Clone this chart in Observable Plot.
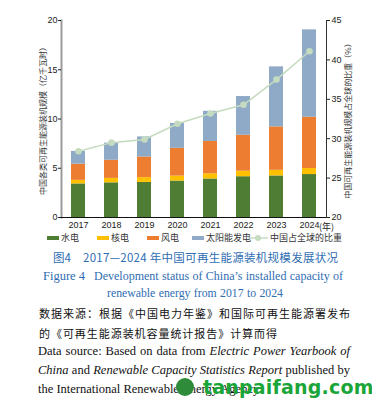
<!DOCTYPE html>
<html><head><meta charset="utf-8">
<script src="https://cdn.jsdelivr.net/npm/d3@7"></script>
<script src="https://cdn.jsdelivr.net/npm/@observablehq/plot@0.6"></script>
<style>
body{margin:0;background:#fff;}
#wrap{position:relative;width:372px;height:406px;overflow:hidden;background:#fff;}
#chart{position:absolute;left:0;top:0;}
.abs{position:absolute;white-space:nowrap;}
#legend{position:absolute;left:0;top:231px;width:372px;height:14px;font-family:"Noto Sans CJK SC",sans-serif;font-size:9px;color:#333;}
.lg{position:absolute;top:0;height:14px;line-height:14px;}
.sw{display:inline-block;width:12px;height:4px;vertical-align:middle;margin-right:2px;position:relative;top:-1px;}
.cn{font-family:"Noto Sans CJK SC",sans-serif;}
.en{font-family:"Liberation Serif","Times New Roman",serif;}
.blue{color:#2f6db3;}
</style></head><body>
<div id="wrap">
<div id="chart"></div>
<div id="legend"></div>
<div class="abs cn blue" style="left:53px;top:249px;font-size:11.5px;line-height:16px;">图4</div>
<div class="abs cn blue fit" data-w="255" data-mode="letter" style="left:83px;top:249px;font-size:11.5px;line-height:16px;">2017—2024 年中国可再生能源装机规模发展状况</div>
<div class="abs en blue" style="left:43px;top:268px;font-size:12.5px;line-height:16px;">Figure 4</div>
<div class="abs en blue fit" data-w="249" data-mode="word" style="left:94px;top:268px;font-size:12.5px;line-height:16px;">Development status of China’s installed capacity of</div>
<div class="abs en blue fit" data-w="176" data-mode="word" style="left:107px;top:286px;font-size:12.5px;line-height:16px;">renewable energy from 2017 to 2024</div>
<div class="abs cn fit" data-w="311" data-mode="letter" style="left:39px;top:305px;font-size:11px;line-height:16px;color:#111;">数据来源：根据《中国电力年鉴》和国际可再生能源署发布</div>
<div class="abs cn fit" data-w="238" data-mode="letter" style="left:39px;top:325px;font-size:11px;line-height:16px;color:#111;">的《可再生能源装机容量统计报告》计算而得</div>
<div class="abs en fit" data-w="312" data-mode="word" style="left:38px;top:343px;font-size:12.5px;line-height:16px;color:#111;">Data source: Based on data from <i>Electric Power Yearbook of</i></div>
<div class="abs en fit" data-w="312" data-mode="word" style="left:38px;top:362px;font-size:12.5px;line-height:16px;color:#111;"><i>China</i> and <i>Renewable Capacity Statistics Report</i> published by</div>
<div class="abs en" style="left:38px;top:381px;font-size:12.5px;line-height:16px;color:#111;">the International Renewable Energy Agency</div>
<div class="abs" style="left:176px;top:378px;width:18px;height:18px;border-radius:50%;background:#2e8b3a;"></div>
<div class="abs" style="left:203px;top:375px;font-family:'DejaVu Sans',sans-serif;font-weight:bold;font-size:19px;line-height:24px;color:#1aa538;letter-spacing:0.2px;">tanpaifang.com</div>
</div>
<script>
const years = ["2017","2018","2019","2020","2021","2022","2023","2024"];
const hydro   = [3.41,3.52,3.56,3.70,3.91,4.14,4.22,4.36];
const nuclear = [0.36,0.45,0.49,0.50,0.53,0.56,0.57,0.61];
const wind    = [1.64,1.84,2.09,2.82,3.28,3.65,4.41,5.21];
const solar   = [1.30,1.74,2.04,2.53,3.06,3.93,6.09,8.87];
const share   = [28.4,29.5,29.9,31.9,33.2,34.3,37.5,41.1];
const seriesNames  = ["水电","核电","风电","太阳能发电"];
const seriesColors = ["#4f7d33","#ffc000","#ed7d31","#8eaac6"];
const lineName = "中国占全球的比重";
const lineColor = "#c5dbbf";
const leftTicks  = [0,5,10,15,20];
const rightTicks = [20,25,30,35,40,45];
const leftLabel  = "中国各类可再生能源装机规模（亿千瓦时）";
const rightLabel = "中国可再生能源装机规模占全球的比重（%）";

const seriesValues = [hydro, nuclear, wind, solar];
const stackData = [];
years.forEach((y, i) => seriesNames.forEach((s, k) => stackData.push({year: y, type: s, value: seriesValues[k][i]})));
const shareData = years.map((y, i) => ({year: y, share: share[i]}));
// map right-axis (20–45 %) onto left-axis units (0–20)
const toLeft = p => (p - 20) * 20 / 25;
const fromLeft = v => v * 25 / 20 + 20;

const chart = Plot.plot({
  width: 372,
  height: 238,
  marginLeft: 61,
  marginRight: 46,
  marginTop: 20,
  marginBottom: 21,
  style: {fontFamily: "Liberation Sans, Arial, sans-serif", fontSize: "9px", color: "#222", background: "transparent"},
  x: {type: "band", domain: years, paddingInner: 0.58, paddingOuter: 0.29, align: 0.5},
  y: {domain: [0, 20]},
  color: {domain: seriesNames, range: seriesColors},
  marks: [
    Plot.barY(stackData, {x: "year", y: "value", fill: "type", order: seriesNames}),
    Plot.line(shareData, {x: "year", y: d => toLeft(d.share), stroke: lineColor, strokeWidth: 1.5}),
    Plot.dot(shareData, {x: "year", y: d => toLeft(d.share), r: 3.3, fill: lineColor, stroke: "none"}),
    Plot.frame({anchor: "left", stroke: "#9a9a9a", strokeWidth: 2}),
    Plot.frame({anchor: "right", stroke: "#333", strokeWidth: 1}),
    Plot.ruleY([0], {stroke: "#111", strokeWidth: 1.2}),
    Plot.axisY({anchor: "left", ticks: leftTicks, tickSize: 3, tickPadding: 1, label: null}),
    Plot.axisY(rightTicks.map(toLeft), {anchor: "right", tickSize: 3, tickPadding: 2, label: null, tickFormat: d => String(Math.round(fromLeft(d)))}),
    Plot.axisX({anchor: "bottom", tickSize: 0, tickPadding: 4, label: null}),
    Plot.text([{year: "2024"}], {x: "year", y: 0, text: () => "(年)", dx: 17, dy: 10, fontSize: 9, fontFamily: "Noto Sans CJK SC", fill: "#222"}),
    Plot.text([leftLabel], {frameAnchor: "left", dx: -18, rotate: -90, textAnchor: "middle", text: d => d, fontSize: 8, fontFamily: "Noto Sans CJK SC", fill: "#333"}),
    Plot.text([rightLabel], {frameAnchor: "right", dx: 22, rotate: -90, textAnchor: "middle", text: d => d, fontSize: 8, fontFamily: "Noto Sans CJK SC", fill: "#333"})
  ]
});
document.getElementById("chart").appendChild(chart);

// legend
const legend = document.getElementById("legend");
const positions = [47, 97, 147, 192];
seriesNames.forEach((s, k) => {
  const el = document.createElement("div");
  el.className = "lg";
  el.style.left = positions[k] + "px";
  el.innerHTML = `<span class="sw" style="background:${seriesColors[k]}"></span>${s}`;
  legend.appendChild(el);
});
const lel = document.createElement("div");
lel.className = "lg";
lel.style.left = "248px";
lel.innerHTML = `<svg width="20" height="8" style="vertical-align:middle;margin-right:2px;position:relative;top:-1px"><line x1="0" x2="20" y1="4" y2="4" stroke="${lineColor}" stroke-width="1.5"/><circle cx="10" cy="4" r="3" fill="${lineColor}"/></svg>${lineName}`;
legend.appendChild(lel);

// fit text lines to their widths in the reference
document.querySelectorAll(".fit").forEach(el => {
  const target = +el.dataset.w;
  let fs = parseFloat(el.style.fontSize);
  while (el.getBoundingClientRect().width > target && fs > 6) {
    fs -= 0.25; el.style.fontSize = fs + "px";
  }
  const w = el.getBoundingClientRect().width;
  const extra = target - w;
  if (extra > 0) {
    const txt = el.textContent;
    if (el.dataset.mode === "word") {
      const gaps = (txt.match(/ /g) || []).length;
      if (gaps) el.style.wordSpacing = (extra / gaps) + "px";
    } else {
      const n = txt.length - 1;
      if (n > 0) el.style.letterSpacing = (extra / n) + "px";
    }
  }
});
</script>
</body></html>
